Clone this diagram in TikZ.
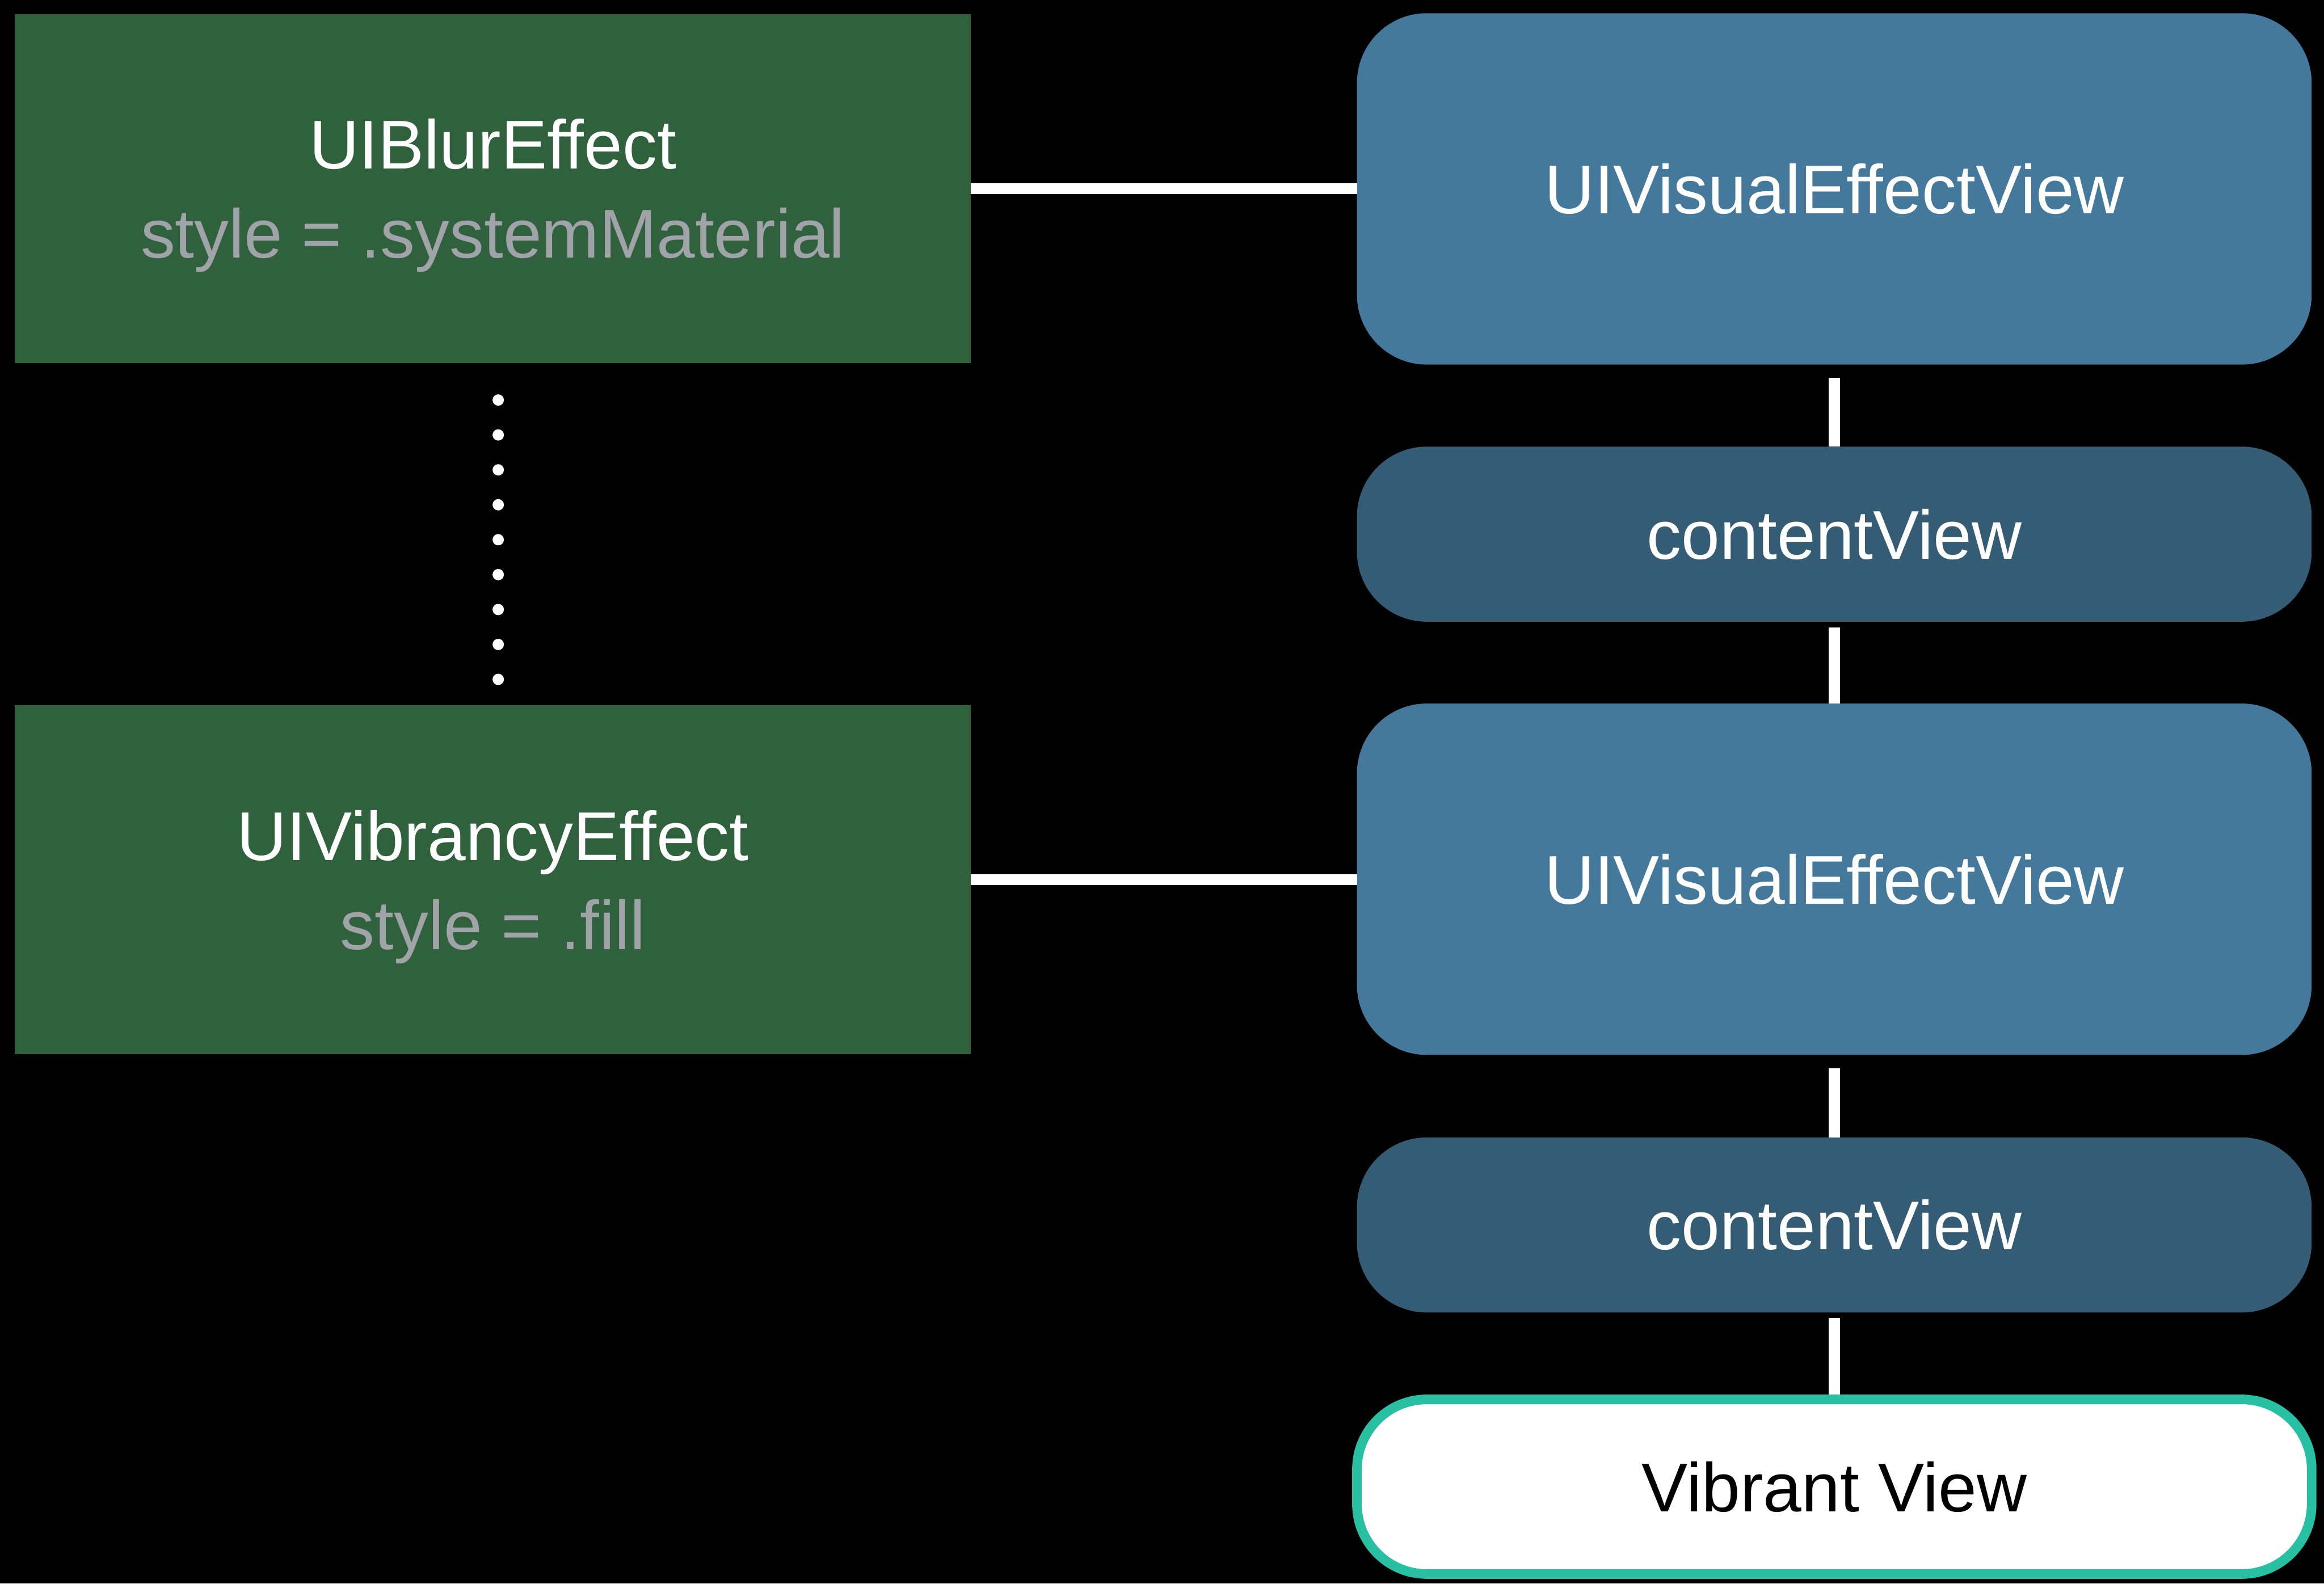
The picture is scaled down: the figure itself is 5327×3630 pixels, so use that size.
\documentclass[tikz,border=0pt]{standalone}
\usepackage{fontspec}
\setmainfont{Liberation Sans}
\usetikzlibrary{calc}
\definecolor{fxgreen}{HTML}{30613D}
\definecolor{vblue}{HTML}{44799B}
\definecolor{cblue}{HTML}{355C75}
\definecolor{vteal}{HTML}{28C0A2}
\definecolor{fxgray}{HTML}{A0A3A8}
\begin{document}
\begin{tikzpicture}[x=0.01cm,y=-0.01cm,
  box/.style={inner sep=0pt, outer sep=0pt, text height=32.2pt, text depth=0pt, font=\fontsize{45}{54}\selectfont},
  effectbox/.style={box, fill=fxgreen, minimum width=21.89cm, minimum height=7.99cm},
  viewbox/.style={box, fill=vblue, rounded corners=1.6cm, minimum width=21.87cm, minimum height=8.05cm, text=white},
  contentbox/.style={box, fill=cblue, rounded corners=1.6cm, minimum width=21.87cm, minimum height=4.01cm, text=white},
  vibrantbox/.style={box, fill=white, draw=vteal, line width=0.22cm, rounded corners=1.6cm, minimum width=21.87cm, minimum height=4.0cm, text=black, outer sep=0.11cm},
  conn/.style={draw=white, line width=0.25cm},
  title/.style={inner sep=0pt, anchor=base, text=white, font=\fontsize{45}{54}\selectfont},
  subtitle/.style={title, text=fxgray},
  dotline/.style={draw=white, line width=0.26cm, line cap=round, dash pattern=on 0pt off 0.8cm}]
\fill[black] (0,0) rectangle (5327,3630);
\useasboundingbox (0,0) rectangle (5327,3630);
% left column
\node[effectbox] (blur) at (1129.5,432.5) {};
\node[title] (blurT) at (1129.5,387) {UIBlurEffect};
\node[subtitle] (blurS) at (1129.5,591) {style = .systemMaterial};
\node[effectbox] (vibr) at (1129.5,2016.5) {};
\node[title] (vibrT) at (1129.5,1972) {UIVibrancyEffect};
\node[subtitle] (vibrS) at (1129.5,2176) {style = .fill};
% right column
\node[viewbox] (vfx1) at (4204.5,433) {UIVisualEffectView};
\node[contentbox] (content1) at (4204.5,1224.5) {contentView};
\node[viewbox] (vfx2) at (4204.5,2015.5) {UIVisualEffectView};
\node[contentbox] (content2) at (4204.5,2808) {contentView};
\node[vibrantbox] (vibrant) at (4204.5,3408) {Vibrant View};
% connectors
\draw[conn] (blur.east) -- (blur.east -| vfx1.west);
\draw[conn] (vibr.east) -- (vibr.east -| vfx2.west);
\draw[conn] ($(vfx1.south)+(0,30)$) -- (content1.north);
\draw[conn] ($(content1.south)+(0,13)$) -- (vfx2.north);
\draw[conn] ($(vfx2.south)+(0,30)$) -- (content2.north);
\draw[conn] ($(content2.south)+(0,13)$) -- (vibrant.north);
% dotted link
\coordinate (dtop) at (1142,917);
\coordinate (dbot) at (1142,1560);
\draw[dotline] (dtop) -- (dbot);
\end{tikzpicture}
\end{document}
